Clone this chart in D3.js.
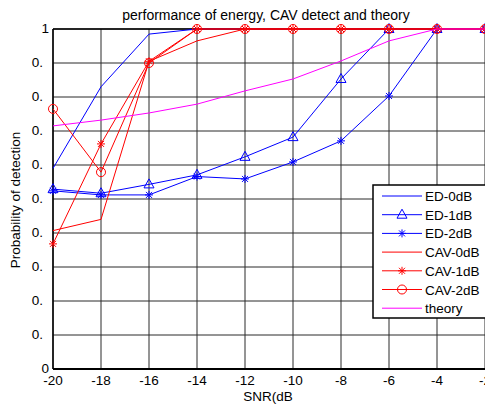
<!DOCTYPE html>
<html>
<head>
<meta charset="utf-8">
<script src="https://cdn.jsdelivr.net/npm/d3@7"></script>
<style>
  body { margin: 0; background: #fff; }
  svg { display: block; font-family: "Liberation Sans", Arial, sans-serif; }
  .grid line { stroke: #2b2b2b; stroke-width: 1; }
  .tick-label { font-size: 13.5px; fill: #000; }
</style>
</head>
<body>
<div id="chart"></div>
<script>
const snr = [-20, -18, -16, -14, -12, -10, -8, -6, -4, -2];
const ed0 = [0.59, 0.83, 0.985, 1, 1, 1, 1, 1, 1, 1];
const ed1 = [0.529, 0.517, 0.543, 0.571, 0.624, 0.682, 0.853, 1, 1, 1];
const ed2 = [0.524, 0.512, 0.512, 0.566, 0.559, 0.609, 0.671, 0.803, 1, 1];
const cav0 = [0.407, 0.44, 0.905, 0.965, 1, 1, 1, 1, 1, 1];
const cav1 = [0.368, 0.662, 0.905, 1, 1, 1, 1, 1, 1, 1];
const cav2 = [0.765, 0.579, 0.9, 1, 1, 1, 1, 1, 1, 1];
const theory = [0.715, 0.732, 0.753, 0.779, 0.818, 0.853, 0.906, 0.965, 1, 1];

const seriesNames = ["ED-0dB", "ED-1dB", "ED-2dB", "CAV-0dB", "CAV-1dB", "CAV-2dB", "theory"];
const yTicks = [0, 0.1, 0.2, 0.3, 0.4, 0.5, 0.6, 0.7, 0.8, 0.9, 1];
const yTickLabels = ["0", "0.", "0.", "0.", "0.", "0.", "0.", "0.", "0.", "0.", "1"];

const series = [
  { name: seriesNames[0], values: ed0, color: "#0000ff", marker: null },
  { name: seriesNames[1], values: ed1, color: "#0000ff", marker: "triangle" },
  { name: seriesNames[2], values: ed2, color: "#0000ff", marker: "star" },
  { name: seriesNames[3], values: cav0, color: "#ff0000", marker: null },
  { name: seriesNames[4], values: cav1, color: "#ff0000", marker: "star" },
  { name: seriesNames[5], values: cav2, color: "#ff0000", marker: "circle" },
  { name: seriesNames[6], values: theory, color: "#ff00ff", marker: null },
];

const width = 485;
const height = 405;
const margin = { top: 29, right: 0, bottom: 36, left: 53 };

const x = d3.scaleLinear().domain([-20, -2]).range([margin.left, width - margin.right]);
const y = d3.scaleLinear().domain([0, 1]).range([height - margin.bottom, margin.top]);

const svg = d3.select("#chart").append("svg")
  .attr("width", width)
  .attr("height", height)
  .attr("viewBox", [0, 0, width, height]);

// grid
const grid = svg.append("g").attr("class", "grid");
grid.selectAll(".gx")
  .data(snr)
  .join("line")
  .attr("x1", (d) => x(d)).attr("x2", (d) => x(d))
  .attr("y1", y(0)).attr("y2", y(1));
grid.selectAll(".gy")
  .data(yTicks)
  .join("line")
  .attr("x1", x(-20)).attr("x2", x(-2))
  .attr("y1", (d) => y(d)).attr("y2", (d) => y(d));

// axes box
svg.append("line")
  .attr("x1", x(-20)).attr("x2", x(-2))
  .attr("y1", y(1)).attr("y2", y(1))
  .attr("stroke", "#000").attr("stroke-width", 1.5);
svg.append("line")
  .attr("x1", x(-20)).attr("x2", x(-2))
  .attr("y1", y(0)).attr("y2", y(0))
  .attr("stroke", "#000").attr("stroke-width", 2);
svg.append("line")
  .attr("x1", x(-20)).attr("x2", x(-20))
  .attr("y1", y(0)).attr("y2", y(1))
  .attr("stroke", "#000").attr("stroke-width", 1.5);

function markerPath(type) {
  if (type === "triangle") {
    return "M0,-5.5L5,3.5L-5,3.5Z";
  }
  if (type === "star") {
    return "M-4,0L4,0M0,-4L0,4M-3,-3L3,3M-3,3L3,-3";
  }
  return d3.symbol(d3.symbolCircle, 64)();
}

const line = d3.line()
  .x((d, i) => x(snr[i]))
  .y((d) => y(d));

const gSeries = svg.selectAll(".series")
  .data(series)
  .join("g")
  .attr("class", "series");

gSeries.append("path")
  .attr("fill", "none")
  .attr("stroke", (d) => d.color)
  .attr("stroke-width", 1)
  .attr("d", (d) => line(d.values));

gSeries.filter((d) => d.marker)
  .selectAll(".marker")
  .data((d) => d.values.map((v, i) => ({ v, i, s: d })))
  .join("path")
  .attr("class", "marker")
  .attr("transform", (d) => `translate(${x(snr[d.i])},${y(d.v)})`)
  .attr("d", (d) => markerPath(d.s.marker))
  .attr("fill", "none")
  .attr("stroke", (d) => d.s.color)
  .attr("stroke-width", 1);

// tick labels
svg.selectAll(".xlabel")
  .data(snr)
  .join("text")
  .attr("class", "tick-label")
  .attr("x", (d) => x(d))
  .attr("y", 385)
  .attr("text-anchor", "middle")
  .text((d) => d);

svg.selectAll(".ylabel")
  .data(yTicks)
  .join("text")
  .attr("class", "tick-label")
  .attr("x", (d, i) => (yTickLabels[i].length > 1 ? 43 : 49))
  .attr("y", (d) => y(d) + 4)
  .attr("text-anchor", "end")
  .text((d, i) => yTickLabels[i]);

// titles
svg.append("text")
  .attr("class", "tick-label")
  .style("font-size", "14px")
  .attr("x", 266).attr("y", 20)
  .attr("text-anchor", "middle")
  .text("performance of energy, CAV detect and theory");

svg.append("text")
  .attr("class", "tick-label")
  .attr("x", 268).attr("y", 401)
  .attr("text-anchor", "middle")
  .text("SNR(dB");

svg.append("text")
  .attr("class", "tick-label")
  .attr("transform", "translate(20,200) rotate(-90)")
  .attr("text-anchor", "middle")
  .text("Probability of detection");

// legend
const legend = svg.append("g").attr("transform", "translate(373,185)");
legend.append("rect")
  .attr("width", 130).attr("height", 133)
  .attr("fill", "#fff")
  .attr("stroke", "#000").attr("stroke-width", 1.5);

const rows = legend.selectAll(".row")
  .data(series)
  .join("g")
  .attr("transform", (d, i) => `translate(0,${11 + i * 18.7})`);

rows.append("line")
  .attr("x1", 9).attr("x2", 49)
  .attr("stroke", (d) => d.color)
  .attr("stroke-width", 1);

rows.filter((d) => d.marker)
  .append("path")
  .attr("transform", "translate(29,0)")
  .attr("d", (d) => markerPath(d.marker))
  .attr("fill", "none")
  .attr("stroke", (d) => d.color);

rows.append("text")
  .attr("class", "tick-label")
  .attr("x", 52).attr("y", 5)
  .text((d) => d.name);
</script>
</body>
</html>
